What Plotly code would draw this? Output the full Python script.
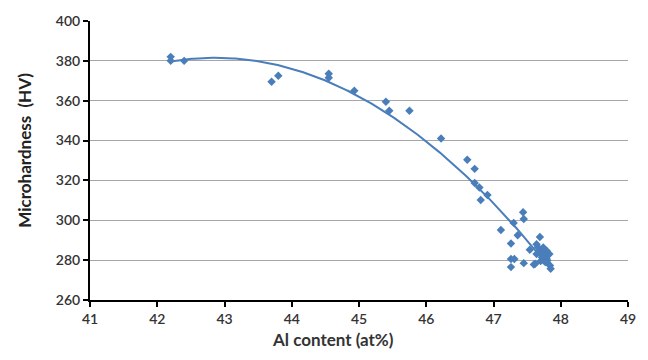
import numpy as np
import plotly.graph_objects as go

al_content = [42.2, 42.2, 42.4, 43.7, 43.8, 44.55, 44.55, 44.93, 45.4, 45.45, 45.75,
              46.22, 46.61, 46.72, 46.72, 46.79, 46.91, 46.81, 47.44, 47.45, 47.30,
              47.11, 47.36, 47.26, 47.69, 47.64, 47.54, 47.72, 47.82, 47.26, 47.31,
              47.26, 47.45, 47.60, 47.85, 47.74, 47.79, 47.69, 47.64, 47.74, 47.72,
              47.79, 47.83, 47.77, 47.84, 47.62, 47.66, 47.70, 47.76, 47.80]
hardness = [382, 380, 380, 369.5, 372.5, 373.5, 371.5, 365, 359.5, 355, 355,
            341, 330.4, 325.8, 318.7, 316.4, 312.7, 310.2, 304, 300.6, 298.7,
            295.1, 292.5, 288.3, 291.6, 288, 285.2, 285.2, 282.8, 280.6, 280.6,
            276.5, 278.5, 277.8, 275.7, 286.4, 284.7, 283.9, 283.1, 283.1, 281.4,
            280.6, 283.1, 279, 277.3, 278.2, 286.5, 279.5, 282.2, 279.8]

x_ticks = [41, 42, 43, 44, 45, 46, 47, 48, 49]
y_ticks = [260, 280, 300, 320, 340, 360, 380, 400]
x_title = "Al content (at%)"
y_title = "Microhardness  (HV)"

# polynomial (order 2) trendline fitted to the data, as in the original
coef = np.polyfit(al_content, hardness, 2)
xf = np.linspace(min(al_content), max(al_content), 200)
yf = np.polyval(coef, xf)

blue = "#4a7ebb"
fig = go.Figure()
fig.add_trace(go.Scatter(x=xf, y=yf, mode="lines",
                         line=dict(color=blue, width=2), hoverinfo="skip"))
fig.add_trace(go.Scatter(x=al_content, y=hardness, mode="markers",
                         marker=dict(symbol="diamond", size=6.5, color=blue)))

font_family = "Lato, 'Open Sans', sans-serif"
tick_font = dict(size=14, color="#333333", family=font_family, weight=600)
fig.update_layout(
    width=648, height=360,
    margin=dict(l=90, r=20, t=16, b=60),
    plot_bgcolor="white", paper_bgcolor="white",
    showlegend=False,
    font=dict(family=font_family, size=13, color="#333333"),
    xaxis=dict(range=[41, 49], tickvals=x_ticks, showgrid=False, zeroline=False,
               showline=True, linecolor="black", linewidth=2,
               ticks="outside", ticklen=5, tickwidth=1.5, tickcolor="black",
               tickfont=tick_font),
    yaxis=dict(range=[260, 400], tickvals=y_ticks, showgrid=True, gridcolor="#a6a6a6",
               gridwidth=1, zeroline=False,
               showline=True, linecolor="black", linewidth=2,
               ticks="outside", ticklen=5, tickwidth=1.5, tickcolor="black",
               tickfont=tick_font),
    annotations=[
        dict(text="<b>" + x_title + "</b>", xref="paper", yref="paper",
             x=0.4517, y=-0.141, showarrow=False, xanchor="center", yanchor="middle",
             font=dict(size=17, color="#333333", family=font_family)),
        dict(text="<b>" + y_title + "</b>", xref="paper", yref="paper",
             x=-0.1208, y=0.535, showarrow=False, xanchor="center", yanchor="middle",
             textangle=-90, font=dict(size=17, color="#222222", family=font_family)),
    ],
)
fig.write_html("out.html")
